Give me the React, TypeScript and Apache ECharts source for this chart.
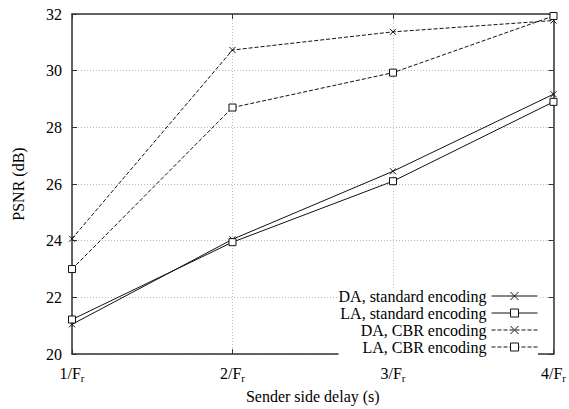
import React, { useEffect, useRef } from "react";
import * as echarts from "echarts";

const xValues = [1, 2, 3, 4];
const daStandard = [21.05, 24.05, 26.45, 29.17];
const laStandard = [21.22, 23.95, 26.1, 28.9];
const daCBR = [24.07, 30.73, 31.37, 31.77];
const laCBR = [23.0, 28.7, 29.93, 31.93];
const seriesNames = [
  "DA, standard encoding",
  "LA, standard encoding",
  "DA, CBR encoding",
  "LA, CBR encoding",
];

const FONT = "'Liberation Serif', 'DejaVu Serif', serif";
const CROSS = "path://M0,0L10,10M10,0L0,10";
const SQUARE = "path://M0,0L10,0L10,10L0,10Z";

export default function App() {
  const ref = useRef<HTMLDivElement>(null);
  useEffect(() => {
    if (!ref.current) return;
    const chart = echarts.init(ref.current, undefined, { renderer: "svg" });
    const pair = (vals: number[]) => vals.map((v, i) => [xValues[i], v]);
    const mk = (name: string, vals: number[], cross: boolean, dashed: boolean) => ({
      name,
      type: "line",
      data: pair(vals),
      symbol: cross ? CROSS : SQUARE,
      symbolSize: cross ? 6 : 7,
      showAllSymbol: true,
      lineStyle: {
        color: "#111",
        width: 1,
        type: dashed ? [4, 2] : "solid",
      },
      itemStyle: {
        color: cross ? "#111" : "#fff",
        borderColor: "#111",
        borderWidth: 1,
      },
      emphasis: { disabled: true },
    });
    const gridLine = {
      show: true,
      lineStyle: { color: "#bbb", width: 1, type: [1, 2] },
    };
    chart.setOption({
      animation: false,
      backgroundColor: "#fff",
      textStyle: { fontFamily: FONT },
      grid: { left: 72, right: 13, top: 14, bottom: 52 },
      legend: {
        data: seriesNames,
        orient: "vertical",
        align: "right",
        right: 31,
        top: 288,
        itemWidth: 46,
        itemHeight: 10,
        itemGap: 1,
        backgroundColor: "#fff",
        padding: [0, 0, 0, 0],
        lineStyle: { width: 1, color: "#111" },
        itemStyle: { borderWidth: 1, borderColor: "#111" },
        textStyle: { fontFamily: FONT, fontSize: 16, color: "#000", lineHeight: 14 },
      },
      xAxis: [
        {
          type: "value",
          min: 1,
          max: 4,
          interval: 1,
          name: "Sender side delay (s)",
          nameLocation: "middle",
          nameGap: 32,
          nameTextStyle: { fontFamily: FONT, fontSize: 16, color: "#000" },
          axisLine: { show: true, lineStyle: { color: "#333", width: 1.5 } },
          axisTick: { show: true, inside: true, length: 5, lineStyle: { color: "#333" } },
          splitLine: gridLine,
          axisLabel: {
            margin: 9,
            formatter: (v: number) => `{a|${v}/F}{s|r}`,
            rich: {
              a: { fontFamily: FONT, fontSize: 16, color: "#000" },
              s: { fontFamily: FONT, fontSize: 11, color: "#000", padding: [9, 0, 0, 0] },
            },
          },
        },
        {
          type: "value",
          position: "top",
          min: 1,
          max: 4,
          interval: 1,
          axisLine: { show: true, lineStyle: { color: "#333", width: 1.5 } },
          axisTick: { show: true, inside: true, length: 5, lineStyle: { color: "#333" } },
          axisLabel: { show: false },
          splitLine: { show: false },
        },
      ],
      yAxis: [
        {
          type: "value",
          min: 20,
          max: 32,
          interval: 2,
          name: "PSNR (dB)",
          nameLocation: "middle",
          nameGap: 46,
          nameTextStyle: { fontFamily: FONT, fontSize: 16, color: "#000" },
          axisLine: { show: true, lineStyle: { color: "#333", width: 1.5 } },
          axisTick: { show: true, inside: true, length: 5, lineStyle: { color: "#333" } },
          splitLine: gridLine,
          axisLabel: { fontFamily: FONT, fontSize: 16, color: "#000", margin: 10 },
        },
        {
          type: "value",
          position: "right",
          min: 20,
          max: 32,
          interval: 2,
          axisLine: { show: true, lineStyle: { color: "#333", width: 1.5 } },
          axisTick: { show: true, inside: true, length: 5, lineStyle: { color: "#333" } },
          axisLabel: { show: false },
          splitLine: { show: false },
        },
      ],
      series: [
        mk(seriesNames[0], daStandard, true, false),
        mk(seriesNames[1], laStandard, false, false),
        mk(seriesNames[2], daCBR, true, true),
        mk(seriesNames[3], laCBR, false, true),
      ],
    });
    return () => chart.dispose();
  }, []);
  return (
    <div
      ref={ref}
      style={{ position: "fixed", left: 0, top: 0, width: 569, height: 409 }}
    />
  );
}
